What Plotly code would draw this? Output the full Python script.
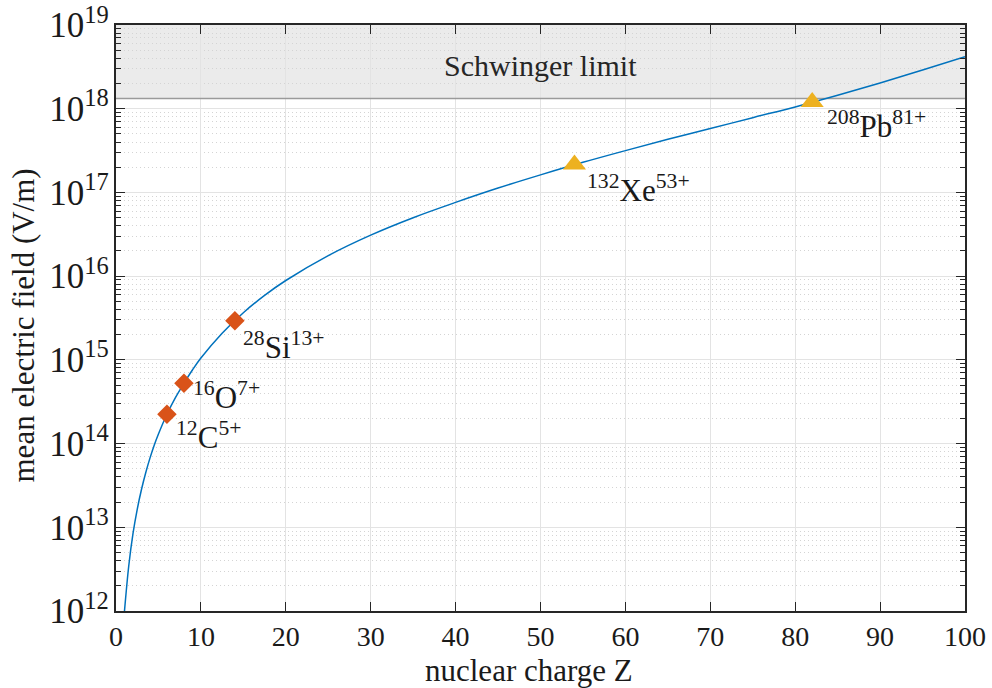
import numpy as np
import plotly.graph_objects as go

# ---- data ----
Z_CURVE = [1, 1.5, 2, 2.5, 3, 3.5, 4, 4.5, 5, 6, 7, 8, 9, 10, 12.5, 15, 17.5, 20,
           25, 30, 35, 40, 45, 50, 55, 60, 65, 70, 75, 80, 85, 90, 95, 100]
E_CURVE = [1.0e12, 3.45e12, 8.4e12, 1.64e13, 2.83e13, 4.49e13, 6.7e13, 9.55e13,
           1.30e14, 2.24e14, 3.54e14, 5.25e14, 7.57e14, 1.05e15, 2.08e15, 3.66e15,
           5.89e15, 8.87e15, 1.76e16, 3.09e16, 4.99e16, 7.6e16, 1.127e17, 1.62e17,
           2.29e17, 3.16e17, 4.31e17, 5.79e17, 7.82e17, 1.05e18, 1.445e18, 2.03e18,
           2.90e18, 4.17e18]

LIGHT_Z = [6, 8, 14]
LIGHT_E = [2.24e14, 5.25e14, 2.94e15]
LIGHT_LABELS = ["<sup>12</sup>C<sup>5+</sup>", "<sup>16</sup>O<sup>7+</sup>",
                "<sup>28</sup>Si<sup>13+</sup>"]

HEAVY_Z = [54, 82]
HEAVY_E = [2.16e17, 1.2e18]
HEAVY_LABELS = ["<sup>132</sup>Xe<sup>53+</sup>", "<sup>208</sup>Pb<sup>81+</sup>"]

SCHWINGER_LIMIT = 1.32e18
SCHWINGER_TEXT = "Schwinger limit"

X_RANGE = [0, 100]
Y_RANGE_EXP = [12, 19]
X_TICKS = [0, 10, 20, 30, 40, 50, 60, 70, 80, 90, 100]

X_TITLE = "nuclear charge Z"
Y_TITLE = "mean electric field (V/m)"

# ---- styling ----
FONT = '"Liberation Serif", "Times New Roman", serif'
BLUE = "#0072BD"
ORANGE = "#D95319"
YELLOW = "#EDB120"
AXIS_COLOR = "#262626"
TEXT_COLOR = "#1a1a1a"
# label offsets (pixels, right / down) relative to the marker
LIGHT_OFFS = [(7, 0), (7, -9), (6, 3)]
HEAVY_OFFS = [(11, 3), (13, 1)]

fig = go.Figure()

# Schwinger band
fig.add_shape(type="rect", xref="x", yref="y", layer="below",
              x0=X_RANGE[0], x1=X_RANGE[1], y0=SCHWINGER_LIMIT, y1=10 ** Y_RANGE_EXP[1],
              fillcolor="#ebebeb", line=dict(width=0))
fig.add_trace(go.Scatter(x=X_RANGE, y=[SCHWINGER_LIMIT, SCHWINGER_LIMIT], mode="lines",
                         line=dict(color="#9a9a9a", width=1.5), hoverinfo="skip"))

fig.add_trace(go.Scatter(x=Z_CURVE, y=E_CURVE, mode="lines",
                         line=dict(color=BLUE, width=1.5, shape="spline", smoothing=1.0)))

fig.add_trace(go.Scatter(x=LIGHT_Z, y=LIGHT_E, mode="markers",
                         marker=dict(symbol="diamond", size=15, color=ORANGE,
                                     line=dict(width=0))))
fig.add_trace(go.Scatter(x=HEAVY_Z, y=HEAVY_E, mode="markers",
                         marker=dict(symbol="triangle-up", size=20, color=YELLOW,
                                     line=dict(width=0))))

for zs, es, labs, offs in [(LIGHT_Z, LIGHT_E, LIGHT_LABELS, LIGHT_OFFS),
                           (HEAVY_Z, HEAVY_E, HEAVY_LABELS, HEAVY_OFFS)]:
    for z, e, lab, (dx, dy) in zip(zs, es, labs, offs):
        fig.add_annotation(x=z, y=np.log10(e), xref="x", yref="y", text=lab,
                           showarrow=False, xanchor="left", yanchor="top",
                           xshift=dx, yshift=-dy,
                           font=dict(family=FONT, size=31, color=TEXT_COLOR))

fig.add_annotation(x=(X_RANGE[0] + X_RANGE[1]) / 2,
                   y=(np.log10(SCHWINGER_LIMIT) + Y_RANGE_EXP[1]) / 2,
                   xref="x", yref="y", text=SCHWINGER_TEXT, showarrow=False,
                   xanchor="center", yanchor="middle", yshift=-4,
                   font=dict(family=FONT, size=30, color="#262626"))

# axis titles
fig.add_annotation(x=0.486, y=-0.068, xref="paper", yref="paper", text=X_TITLE,
                   showarrow=False, xanchor="center", yanchor="top",
                   font=dict(family=FONT, size=31, color=TEXT_COLOR))
fig.add_annotation(x=-0.109, y=0.488, xref="paper", yref="paper", text=Y_TITLE,
                   showarrow=False, xanchor="center", yanchor="middle", textangle=-90,
                   font=dict(family=FONT, size=31, color=TEXT_COLOR))

fig.update_xaxes(range=X_RANGE, tickmode="array", tickvals=X_TICKS, automargin=False,
                 ticks="inside", ticklen=9, tickwidth=1.2, tickcolor=AXIS_COLOR,
                 showline=True, linecolor=AXIS_COLOR, linewidth=1.5, mirror="ticks",
                 showgrid=True, gridcolor="#e3e3e3", gridwidth=1, zeroline=False,
                 tickfont=dict(family=FONT, size=28, color=TEXT_COLOR))
fig.update_yaxes(type="log", range=Y_RANGE_EXP, dtick=1, exponentformat="power",
                 automargin=False,
                 ticks="inside", ticklen=9, tickwidth=1.2, tickcolor=AXIS_COLOR,
                 showline=True, linecolor=AXIS_COLOR, linewidth=1.5, mirror="ticks",
                 showgrid=True, gridcolor="#e3e3e3", gridwidth=1, zeroline=False,
                 minor=dict(dtick="D1", ticks="inside", ticklen=5, tickcolor=AXIS_COLOR,
                            showgrid=True, gridcolor="#d4d4d4", griddash="1px,3px",
                            gridwidth=1),
                 tickfont=dict(family=FONT, size=28, color=TEXT_COLOR))

fig.update_layout(width=992, height=688, margin=dict(l=116, r=27, t=25, b=77),
                  plot_bgcolor="white", paper_bgcolor="white", showlegend=False,
                  font=dict(family=FONT, size=28, color=TEXT_COLOR))

fig.write_html("out.html")
